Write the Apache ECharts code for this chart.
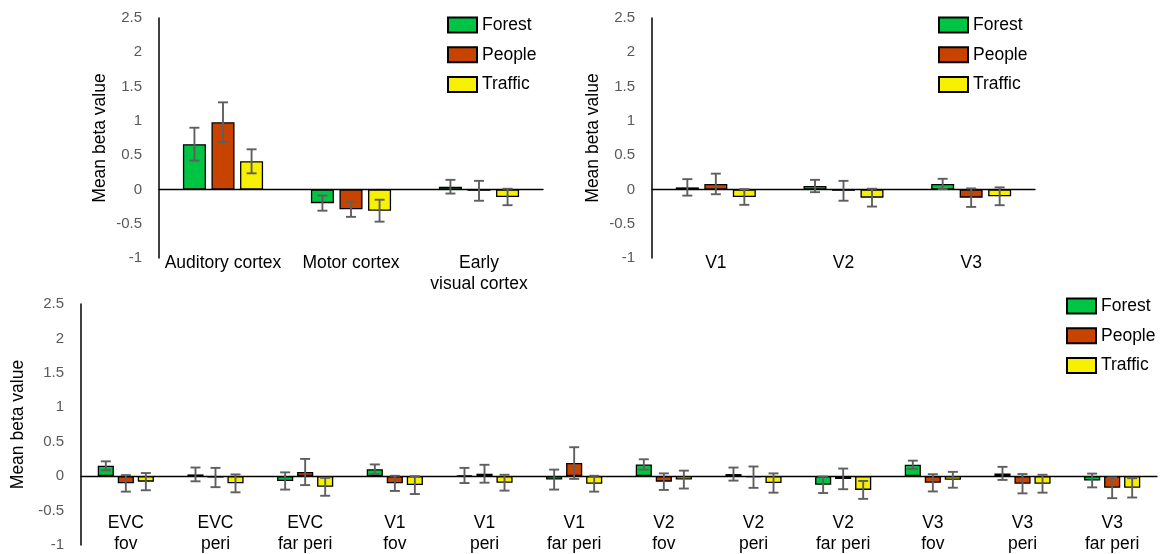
<!DOCTYPE html>
<html>
<head>
<meta charset="utf-8">
<script src="https://cdn.jsdelivr.net/npm/echarts@6/dist/echarts.min.js"></script>
<style>
html,body{margin:0;padding:0;background:#fff;}
#chart{width:1164px;height:554px;}
</style>
</head>
<body>
<div id="chart"></div>
<script>
// ---- data ----
const seriesNames = ['Forest', 'People', 'Traffic'];

const catsA = ['Auditory cortex', 'Motor cortex', 'Early\nvisual cortex'];
const forestA = [0.66, -0.20, 0.04];
const forestAErr = [0.24, 0.11, 0.10];
const peopleA = [0.98, -0.29, -0.02];
const peopleAErr = [0.29, 0.11, 0.145];
const trafficA = [0.41, -0.31, -0.11];
const trafficAErr = [0.175, 0.16, 0.12];

const catsB = ['V1', 'V2', 'V3'];
const forestB = [0.03, 0.05, 0.08];
const forestBErr = [0.12, 0.09, 0.075];
const peopleB = [0.08, -0.02, -0.12];
const peopleBErr = [0.15, 0.145, 0.135];
const trafficB = [-0.11, -0.12, -0.10];
const trafficBErr = [0.115, 0.13, 0.13];

const catsC = ['EVC\nfov', 'EVC\nperi', 'EVC\nfar peri', 'V1\nfov', 'V1\nperi', 'V1\nfar peri',
               'V2\nfov', 'V2\nperi', 'V2\nfar peri', 'V3\nfov', 'V3\nperi', 'V3\nfar peri'];
const forestC = [0.15, 0.025, -0.07, 0.10, 0.01, -0.05, 0.17, 0.03, -0.125, 0.165, 0.04, -0.063];
const forestCErr = [0.065, 0.10, 0.125, 0.07, 0.11, 0.145, 0.075, 0.095, 0.12, 0.06, 0.095, 0.10];
const peopleC = [-0.105, -0.02, 0.06, -0.105, 0.035, 0.19, -0.08, -0.015, -0.04, -0.097, -0.11, -0.17];
const peopleCErr = [0.12, 0.14, 0.19, 0.11, 0.13, 0.23, 0.12, 0.155, 0.15, 0.125, 0.14, 0.15];
const trafficC = [-0.08, -0.105, -0.155, -0.13, -0.095, -0.11, -0.05, -0.10, -0.20, -0.053, -0.11, -0.17];
const trafficCErr = [0.125, 0.13, 0.13, 0.13, 0.115, 0.115, 0.13, 0.14, 0.13, 0.115, 0.13, 0.14];

const yMin = -1, yMax = 2.5, yStep = 0.5;

// ---- styling ----
const FONT = '"Liberation Sans", Arial, sans-serif';
const colors = ['#00C443', '#C94300', '#F7F000'];
const BAR_W = 0.18, GAP = 0.24;

const chart = echarts.init(document.getElementById('chart'));

const grids = [
  {left: 159, top: 18, width: 384, height: 240},
  {left: 652, top: 18, width: 383, height: 240},
  {left: 81, top: 304, width: 1076, height: 241}
];
const cats = [catsA, catsB, catsC];
const vals = [
  [forestA, peopleA, trafficA],
  [forestB, peopleB, trafficB],
  [forestC, peopleC, trafficC]
];
const errs = [
  [forestAErr, peopleAErr, trafficAErr],
  [forestBErr, peopleBErr, trafficBErr],
  [forestCErr, peopleCErr, trafficCErr]
];
const labelMargin = [-5, -5, -32];
const legendPos = [{left: 447, top: 16}, {left: 938, top: 16}, {left: 1066, top: 297}];

function errRender(params, api) {
  const ci = api.value(0), v = api.value(1), e = api.value(2), k = api.value(3);
  const c = api.coord([ci, v]);
  const band = api.size([1, 0])[0];
  const bw = band * BAR_W, pitch = bw * (1 + GAP);
  const x = c[0] + (k - 1) * pitch;
  const yt = api.coord([ci, v + e])[1];
  const yb = api.coord([ci, v - e])[1];
  const h = 5;
  const st = {stroke: '#5F5F5F', lineWidth: 1.9};
  return {
    type: 'group',
    children: [
      {type: 'line', shape: {x1: x, y1: yt, x2: x, y2: yb}, style: st},
      {type: 'line', shape: {x1: x - h, y1: yt, x2: x + h, y2: yt}, style: st},
      {type: 'line', shape: {x1: x - h, y1: yb, x2: x + h, y2: yb}, style: st}
    ]
  };
}

const option = {
  backgroundColor: '#fff',
  animation: false,
  grid: grids.map(g => Object.assign({containLabel: false, outerBoundsMode: 'none'}, g)),
  legend: legendPos.map(p => ({
    left: p.left, top: p.top, orient: 'vertical', padding: 0,
    itemWidth: 29, itemHeight: 15, itemGap: 11.7,
    icon: 'rect',
    data: seriesNames,
    textStyle: {fontFamily: FONT, fontSize: 17.5, color: '#000', lineHeight: 18},
    selectedMode: false
  })),
  xAxis: grids.map((g, i) => ({
    type: 'category', gridIndex: i, data: cats[i],
    axisLine: {show: true, onZero: true, lineStyle: {color: '#000', width: 1.3}},
    axisTick: {show: false},
    axisLabel: {interval: 0, margin: labelMargin[i], fontFamily: FONT, fontSize: 17.5,
                color: '#000', lineHeight: 21},
    splitLine: {show: false}
  })),
  yAxis: grids.map((g, i) => ({
    type: 'value', gridIndex: i, min: yMin, max: yMax, interval: yStep,
    name: 'Mean beta value', nameLocation: 'middle', nameGap: 50,
    nameTextStyle: {fontFamily: FONT, fontSize: 17.5, color: '#000'},
    axisLine: {show: true, lineStyle: {color: '#000', width: 1.5}},
    axisTick: {show: false},
    axisLabel: {margin: 17, fontFamily: FONT, fontSize: 15, color: '#595959'},
    splitLine: {show: false}
  })),
  series: []
};

for (let i = 0; i < 3; i++) {
  for (let k = 0; k < 3; k++) {
    option.series.push({
      type: 'bar', name: seriesNames[k], xAxisIndex: i, yAxisIndex: i,
      data: vals[i][k], barWidth: (BAR_W * 100) + '%', barGap: (GAP * 100) + '%',
      itemStyle: {color: colors[k], borderColor: '#000', borderWidth: 1.3},
      z: 2
    });
  }
  for (let k = 0; k < 3; k++) {
    option.series.push({
      type: 'custom', name: seriesNames[k] + ' error', xAxisIndex: i, yAxisIndex: i,
      renderItem: errRender,
      encode: {x: 0, y: 1},
      data: vals[i][k].map((v, ci) => [ci, v, errs[i][k][ci], k]),
      z: 5, silent: true
    });
  }
}

chart.setOption(option);
</script>
</body>
</html>
